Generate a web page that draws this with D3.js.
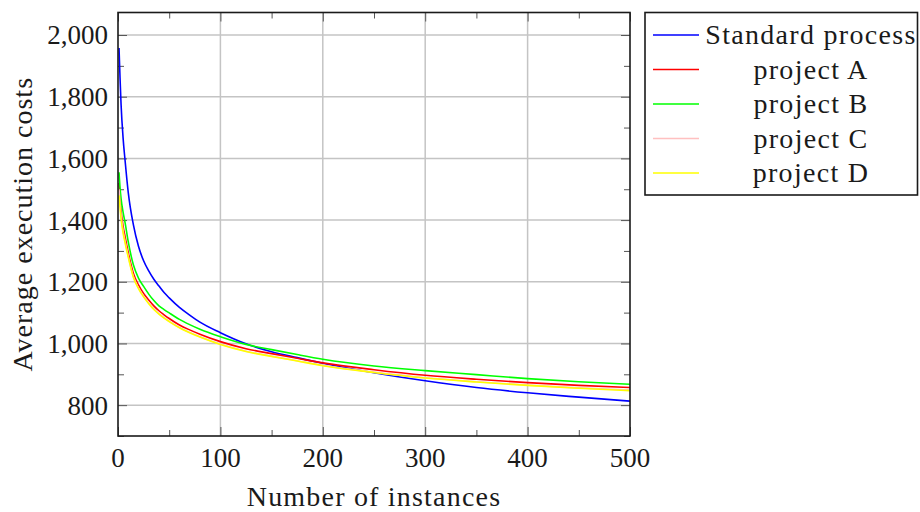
<!DOCTYPE html>
<html>
<head>
<meta charset="utf-8">
<script src="https://cdn.jsdelivr.net/npm/d3@7"></script>
<style>
  html, body { margin: 0; padding: 0; background: #fff; }
  svg { display: block; }
  text { font-family: "Liberation Serif", "Times New Roman", serif; fill: #1a1a1a; }
</style>
</head>
<body>
<svg id="chart" width="920" height="512"></svg>
<script>
// ---- data ----
const instances = [1,2,3,5,7,10,15,20,25,30,35,40,45,50,60,70,80,100,125,150,175,200,250,300,350,400,450,500];
const standardProcess = [1958,1860,1775,1665,1590,1490,1385,1315,1268,1235,1208,1186,1165,1148,1117,1092,1069,1035,999,973,954,936,905,879,857,840,826,813];
const projectA = [1520,1470,1430,1380,1345,1295,1228,1190,1162,1141,1122,1106,1093,1081,1060,1044,1030,1006,983,967,952,937,915,897,884,873,864,857];
const projectB = [1555,1505,1470,1425,1390,1330,1255,1212,1185,1160,1139,1122,1110,1099,1078,1061,1046,1022,997,980,964,949,927,912,899,886,876,868];
const projectC = [1500,1452,1415,1365,1330,1283,1217,1180,1153,1131,1112,1097,1084,1072,1052,1036,1022,998,975,959,944,929,907,889,876,865,856,849];
const projectD = [1480,1440,1405,1358,1325,1280,1215,1178,1151,1129,1110,1095,1082,1071,1051,1035,1021,997,974,958,943,928,906,888,875,864,855,847];
const seriesNames = ["Standard process","project A","project B","project C","project D"];
const seriesColors = ["#0000ff","#ff0000","#00ff00","#ffc0c0","#ffff00"];
const xTicks = [0,100,200,300,400,500];
const xMinorTicks = [50,150,250,350,450];
const yTicks = [800,1000,1200,1400,1600,1800,2000];
const yMinorTicks = [700,900,1100,1300,1500,1700,1900];
const xLabel = "Number of instances";
const yLabel = "Average execution costs";

const allSeries = [standardProcess, projectA, projectB, projectC, projectD];

// ---- layout ----
const L = 118, R = 630, T = 12.5, B = 436;
const svg = d3.select("#chart");
const x = d3.scaleLinear().domain([0, 500]).range([L, R]);
const y = d3.scaleLinear().domain([700, 2073]).range([B, T]);

// grid
const grid = svg.append("g");
grid.selectAll("line.gx").data(xTicks.slice(1, -1)).join("line")
  .attr("x1", d => x(d)).attr("x2", d => x(d)).attr("y1", T).attr("y2", B)
  .attr("stroke", "#c4c4c4").attr("stroke-width", 1.5);
grid.selectAll("line.gy").data(yTicks).join("line")
  .attr("x1", L).attr("x2", R).attr("y1", d => y(d)).attr("y2", d => y(d))
  .attr("stroke", "#c4c4c4").attr("stroke-width", 1.5);

// ticks (inward on all four sides) via d3 axes
const tickStyle = g => {
  g.select(".domain").remove();
  g.selectAll(".tick line").attr("stroke", "#555").attr("stroke-width", 1);
  g.selectAll(".tick text").remove();
};
const majorLen = 9, minorLen = 6;
svg.append("g").attr("transform", `translate(0,${B})`)
  .call(d3.axisTop(x).tickValues(xTicks).tickSize(majorLen)).call(tickStyle);
svg.append("g").attr("transform", `translate(0,${B})`)
  .call(d3.axisTop(x).tickValues(xMinorTicks).tickSize(minorLen)).call(tickStyle);
svg.append("g").attr("transform", `translate(0,${T})`)
  .call(d3.axisBottom(x).tickValues(xTicks).tickSize(majorLen)).call(tickStyle);
svg.append("g").attr("transform", `translate(0,${T})`)
  .call(d3.axisBottom(x).tickValues(xMinorTicks).tickSize(minorLen)).call(tickStyle);
svg.append("g").attr("transform", `translate(${L},0)`)
  .call(d3.axisRight(y).tickValues(yTicks).tickSize(majorLen)).call(tickStyle);
svg.append("g").attr("transform", `translate(${L},0)`)
  .call(d3.axisRight(y).tickValues(yMinorTicks).tickSize(minorLen)).call(tickStyle);
svg.append("g").attr("transform", `translate(${R},0)`)
  .call(d3.axisLeft(y).tickValues(yTicks).tickSize(majorLen)).call(tickStyle);
svg.append("g").attr("transform", `translate(${R},0)`)
  .call(d3.axisLeft(y).tickValues(yMinorTicks).tickSize(minorLen)).call(tickStyle);

// lines
const line = d3.line().x((d, i) => x(instances[i])).y(d => y(d)).curve(d3.curveMonotoneX);
svg.append("clipPath").attr("id", "plotclip").append("rect")
  .attr("x", L).attr("y", T).attr("width", R - L).attr("height", B - T);
const lines = svg.append("g").attr("clip-path", "url(#plotclip)");
allSeries.forEach((s, k) => {
  lines.append("path").datum(s).attr("d", line)
    .attr("fill", "none").attr("stroke", seriesColors[k]).attr("stroke-width", 1.6)
    .attr("stroke-linejoin", "round");
});

// frame
svg.append("rect").attr("x", L).attr("y", T).attr("width", R - L).attr("height", B - T)
  .attr("fill", "none").attr("stroke", "#1a1a1a").attr("stroke-width", 1.6);

// tick labels
svg.append("g").selectAll("text").data(xTicks).join("text")
  .attr("x", d => x(d)).attr("y", 467).attr("text-anchor", "middle")
  .attr("font-size", 27).text(d => d);
svg.append("g").selectAll("text").data(yTicks).join("text")
  .attr("x", L - 10).attr("y", d => y(d)).attr("dy", "0.35em").attr("text-anchor", "end")
  .attr("font-size", 27).text(d => d3.format(",")(d));

// axis labels
svg.append("text").attr("x", (L + R) / 2).attr("y", 506).attr("text-anchor", "middle")
  .attr("font-size", 28).style("letter-spacing", "1.2px").text(xLabel);
svg.append("text").attr("transform", `translate(32,${(T + B) / 2}) rotate(-90)`)
  .attr("text-anchor", "middle").attr("font-size", 28).style("letter-spacing", "1px").text(yLabel);

// legend
const lg = svg.append("g");
lg.append("rect").attr("x", 645).attr("y", 12.5).attr("width", 272.5).attr("height", 182.5)
  .attr("fill", "#fff").attr("stroke", "#1a1a1a").attr("stroke-width", 1.6);
const rowY = d3.scalePoint().domain(seriesNames).range([35, 173]);
seriesNames.forEach((n, k) => {
  lg.append("line").attr("x1", 653).attr("x2", 699).attr("y1", rowY(n)).attr("y2", rowY(n))
    .attr("stroke", seriesColors[k]).attr("stroke-width", 1.6);
  lg.append("text").attr("x", 811).attr("y", rowY(n)).attr("dy", "0.33em")
    .attr("text-anchor", "middle").attr("font-size", 28).style("letter-spacing", "1.3px").text(n);
});
</script>
</body>
</html>
